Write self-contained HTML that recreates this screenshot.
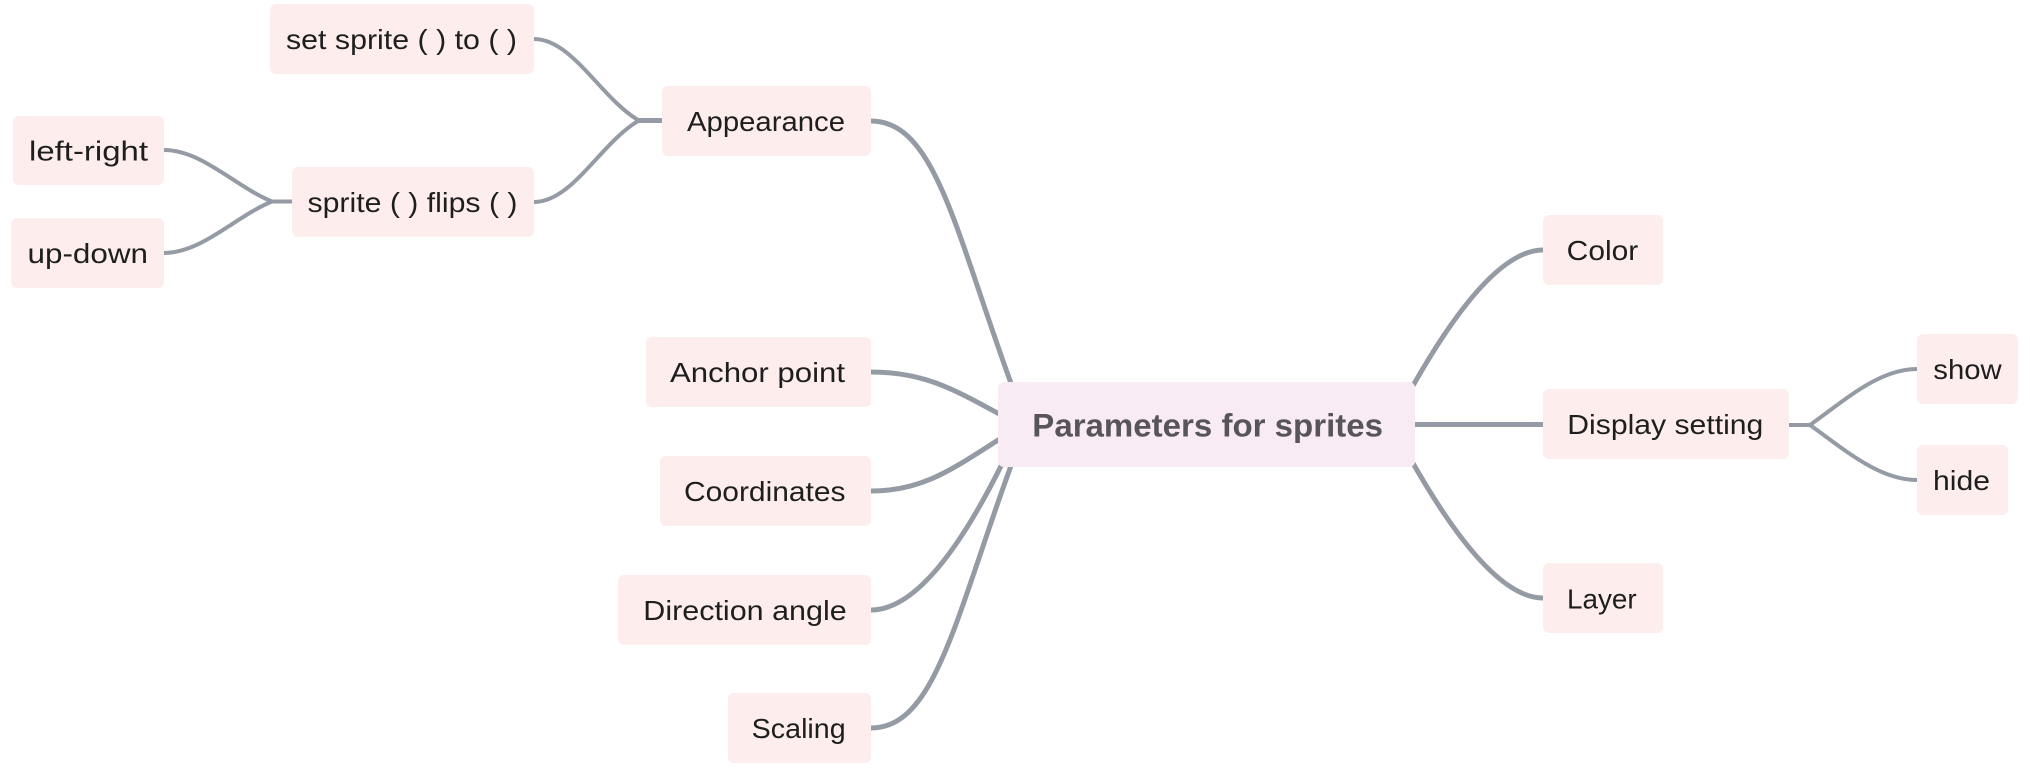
<!DOCTYPE html>
<html>
<head>
<meta charset="utf-8">
<style>
  html, body { margin: 0; padding: 0; background: #ffffff; }
  body { width: 2030px; height: 768px; overflow: hidden; }
  svg { display: block; }
  .n { fill: #fdeeed; }
  .t { font-family: "Liberation Sans", "DejaVu Sans", sans-serif; font-size: 28px; fill: #1e1e1e; }
  .l { fill: none; stroke: #959ba4; stroke-linecap: round; }
  .m { stroke-width: 5; }
  .s { stroke-width: 4; }
</style>
</head>
<body>
<svg width="2030" height="768" viewBox="0 0 2030 768" xmlns="http://www.w3.org/2000/svg">
  <!-- connectors: root branches, left -->
  <path class="l m" d="M871,121 C935,121 955,230 1012,386"/>
  <path class="l m" d="M871,372 C925,372 955,390 1003,416"/>
  <path class="l m" d="M871,491 C925,491 955,467 1003,437"/>
  <path class="l m" d="M871,610 Q930,610 1003,462"/>
  <path class="l m" d="M871,728 C935,728 955,619 1012,463"/>
  <!-- root branches, right -->
  <path class="l m" d="M1543,250 Q1489,250 1410,391"/>
  <path class="l m" d="M1410,424.5 L1543,424.5"/>
  <path class="l m" d="M1543,598 Q1489,598 1410,458"/>
  <!-- sub-branches: Appearance -->
  <path class="l s" d="M534,39 C572,39 600,97 638,120 L662,120"/>
  <path class="l s" d="M534,202 C572,202 600,144 638,121 L662,121"/>
  <!-- sub-branches: sprite flips -->
  <path class="l s" d="M164,150 C202,150 236,187 272,201.5 L292,201.5"/>
  <path class="l s" d="M164,253 C202,253 236,216 272,201.5 L292,201.5"/>
  <!-- sub-branches: Display setting -->
  <path class="l s" d="M1917,369 C1879,369 1845,400 1810,425 L1789,425"/>
  <path class="l s" d="M1917,480 C1879,480 1845,450 1810,425 L1789,425"/>

  <!-- nodes left -->
  <rect class="n" x="270" y="4" width="264" height="70" rx="6"/>
  <text class="t" x="286" y="49" textLength="231" lengthAdjust="spacingAndGlyphs">set sprite ( ) to ( )</text>

  <rect class="n" x="662" y="86" width="209" height="70" rx="6"/>
  <text class="t" x="687" y="131" textLength="158" lengthAdjust="spacingAndGlyphs">Appearance</text>

  <rect class="n" x="13" y="116" width="151" height="69" rx="6"/>
  <text class="t" x="29" y="160.5" textLength="119" lengthAdjust="spacingAndGlyphs">left-right</text>

  <rect class="n" x="292" y="167" width="242" height="70" rx="6"/>
  <text class="t" x="307.5" y="212" textLength="210" lengthAdjust="spacingAndGlyphs">sprite ( ) flips ( )</text>

  <rect class="n" x="11" y="218" width="153" height="70" rx="6"/>
  <text class="t" x="27.5" y="263" textLength="120.5" lengthAdjust="spacingAndGlyphs">up-down</text>

  <rect class="n" x="646" y="337" width="225" height="70" rx="6"/>
  <text class="t" x="670" y="382" textLength="175" lengthAdjust="spacingAndGlyphs">Anchor point</text>

  <rect class="n" x="660" y="456" width="211" height="70" rx="6"/>
  <text class="t" x="684" y="501" textLength="161.5" lengthAdjust="spacingAndGlyphs">Coordinates</text>

  <rect class="n" x="618" y="575" width="253" height="70" rx="6"/>
  <text class="t" x="643.3" y="620" textLength="203.4" lengthAdjust="spacingAndGlyphs">Direction angle</text>

  <rect class="n" x="728" y="693" width="143" height="70" rx="6"/>
  <text class="t" x="751.7" y="738" textLength="94" lengthAdjust="spacingAndGlyphs">Scaling</text>

  <!-- root -->
  <rect x="998" y="382" width="417" height="85" rx="6" fill="#f9ebf4"/>
  <text x="1032.3" y="436.7" textLength="350.7" lengthAdjust="spacingAndGlyphs" style="font-family:'Liberation Sans','DejaVu Sans',sans-serif;font-size:32px;font-weight:bold;fill:#57545a;">Parameters for sprites</text>

  <!-- nodes right -->
  <rect class="n" x="1543" y="215" width="120" height="70" rx="6"/>
  <text class="t" x="1566.7" y="260" textLength="71.6" lengthAdjust="spacingAndGlyphs">Color</text>

  <rect class="n" x="1543" y="389" width="246" height="70" rx="6"/>
  <text class="t" x="1567.3" y="434" textLength="196" lengthAdjust="spacingAndGlyphs">Display setting</text>

  <rect class="n" x="1543" y="563" width="120" height="70" rx="6"/>
  <text class="t" x="1567" y="608.3" textLength="69.7" lengthAdjust="spacingAndGlyphs">Layer</text>

  <rect class="n" x="1917" y="334" width="101" height="70" rx="6"/>
  <text class="t" x="1933.3" y="379" textLength="68.4" lengthAdjust="spacingAndGlyphs">show</text>

  <rect class="n" x="1917" y="445" width="91" height="70" rx="6"/>
  <text class="t" x="1933" y="490" textLength="57" lengthAdjust="spacingAndGlyphs">hide</text>
</svg>
</body>
</html>
